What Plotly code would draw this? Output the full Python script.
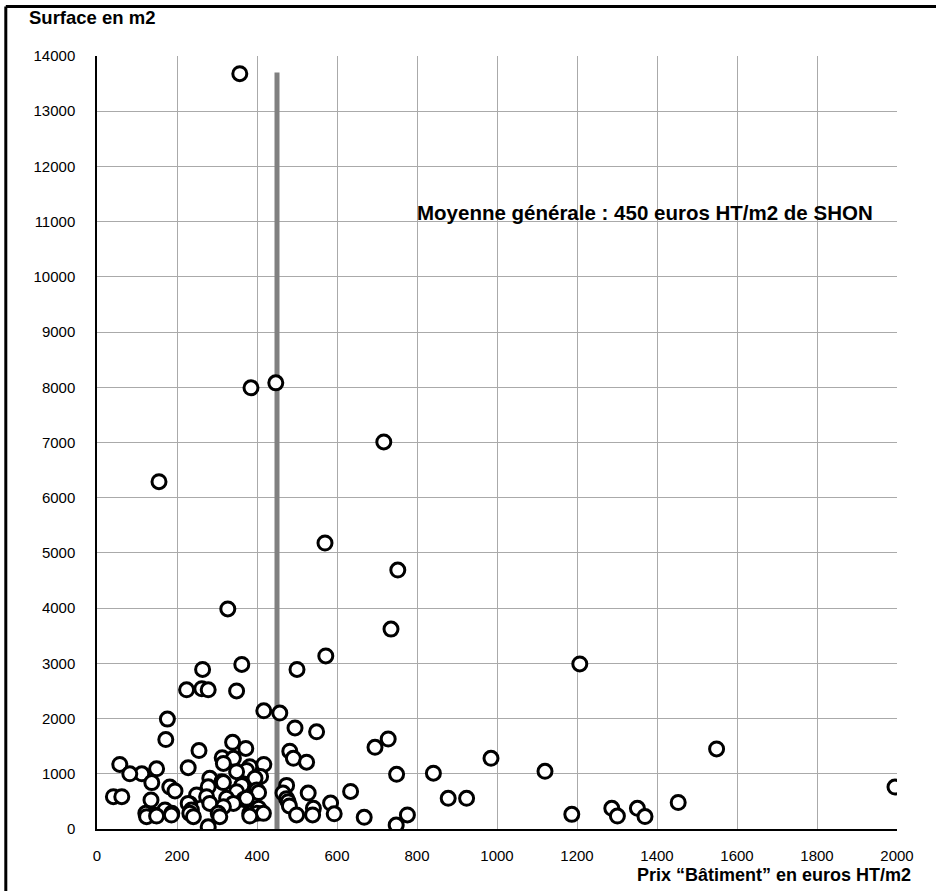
import plotly.graph_objects as go

# Data: (prix bâtiment en euros HT/m2, surface en m2)
prix = [357, 385, 447, 717, 155, 570, 752, 327, 735, 572, 362, 1207, 264, 500,
        224, 262, 278, 349, 417, 457, 176, 495, 549, 172, 728, 339, 695, 1549,
        372, 255, 482, 313, 341, 491, 985, 524, 417, 57, 316, 228, 149, 382,
        374, 349, 1120, 841, 749, 409, 112, 82, 395, 282, 137, 312, 316, 362,
        474, 182, 278, 195, 399, 1995, 404, 465, 349, 634, 528, 249, 41, 62,
        274, 878, 924, 367, 474, 135, 324, 374, 1453, 478, 584, 232, 282, 341,
        228, 481, 316, 404, 541, 1287, 1351, 170, 236, 593, 187, 232, 122, 303,
        382, 399, 416, 499, 539, 776, 141, 186, 1187, 1301, 1370, 241, 124, 307,
        668, 382, 149, 748, 278]
surface = [13680, 7990, 8080, 7010, 6290, 5180, 4690, 3985, 3620, 3135, 2980, 2990,
           2890, 2890, 2520, 2540, 2520, 2500, 2140, 2100, 1990, 1830, 1760, 1620,
           1630, 1570, 1480, 1450, 1460, 1420, 1410, 1290, 1280, 1280, 1280, 1210,
           1170, 1170, 1187, 1110, 1090, 1128, 1060, 1038, 1045, 1010, 990, 950,
           1000, 1000, 918, 918, 840, 855, 840, 790, 790, 760, 764, 690, 706, 760,
           660, 650, 676, 680, 650, 616, 585, 585, 585, 555, 555, 536, 550, 525,
           556, 556, 480, 494, 470, 455, 464, 464, 464, 417, 404, 375, 375, 375,
           375, 344, 344, 275, 283, 283, 283, 283, 283, 283, 283, 255, 255, 254,
           254, 253, 265, 235, 225, 223, 223, 223, 212, 235, 235, 72, 40]

moyenne = 450
moyenne_y = [0, 13700]

x_ticks = list(range(0, 2001, 200))
y_ticks = list(range(0, 14001, 1000))

FONT = "Liberation Sans, Arial, Helvetica, sans-serif"

fig = go.Figure()

fig.add_trace(go.Scatter(
    x=[moyenne, moyenne], y=moyenne_y, mode="lines",
    line=dict(color="#808080", width=5), hoverinfo="skip", showlegend=False))

fig.add_trace(go.Scatter(
    x=prix, y=surface, mode="markers",
    marker=dict(symbol="circle", size=14, color="white",
                line=dict(color="black", width=3)),
    showlegend=False))

fig.add_annotation(
    x=1945, y=11160, xref="x", yref="y", xanchor="right", yanchor="middle",
    text="<b>Moyenne générale : 450 euros HT/m2 de SHON</b>", showarrow=False,
    font=dict(family=FONT, size=20.5, color="black"))

# axis titles
fig.add_annotation(
    x=-0.0875, y=1.0504, xref="paper", yref="paper", xanchor="left", yanchor="middle",
    text="<b>Surface en m2</b>", showarrow=False,
    font=dict(family=FONT, size=18.5, color="black"))
fig.add_annotation(
    x=1.02, y=-0.0595, xref="paper", yref="paper", xanchor="right", yanchor="middle",
    text="<b>Prix “Bâtiment” en euros HT/m2</b>", showarrow=False,
    font=dict(family=FONT, size=18, color="black"))

# outer frame (left and top edges)
fig.add_shape(type="line", xref="paper", yref="paper",
              x0=-0.114, x1=-0.114, y0=-0.1, y1=1.064,
              line=dict(color="black", width=3))
fig.add_shape(type="line", xref="paper", yref="paper",
              x0=-0.114, x1=1.06, y0=1.064, y1=1.064,
              line=dict(color="black", width=3))

fig.update_xaxes(
    range=[0, 2000], tickvals=x_ticks, ticktext=[str(v) for v in x_ticks],
    showgrid=True, gridcolor="#aaaaaa", gridwidth=1,
    showline=True, linecolor="black", linewidth=1.5,
    zeroline=False, ticks="", ticklabelstandoff=12,
    tickfont=dict(family=FONT, size=15, color="black"), mirror=False)
fig.update_yaxes(
    range=[0, 14000], tickvals=y_ticks, ticktext=[str(v) for v in y_ticks],
    showgrid=True, gridcolor="#aaaaaa", gridwidth=1,
    showline=True, linecolor="black", linewidth=1.5,
    zeroline=False, ticks="", ticklabelstandoff=17,
    tickfont=dict(family=FONT, size=15, color="black"))

fig.update_layout(
    width=936, height=891,
    margin=dict(l=97, r=39, t=56, b=62),
    paper_bgcolor="white", plot_bgcolor="white",
    showlegend=False, hovermode=False,
    font=dict(family=FONT, color="black"))

fig.write_html("out.html", config={"displayModeBar": False},
               post_script="document.body.style.margin='0';document.body.style.overflow='hidden';")
